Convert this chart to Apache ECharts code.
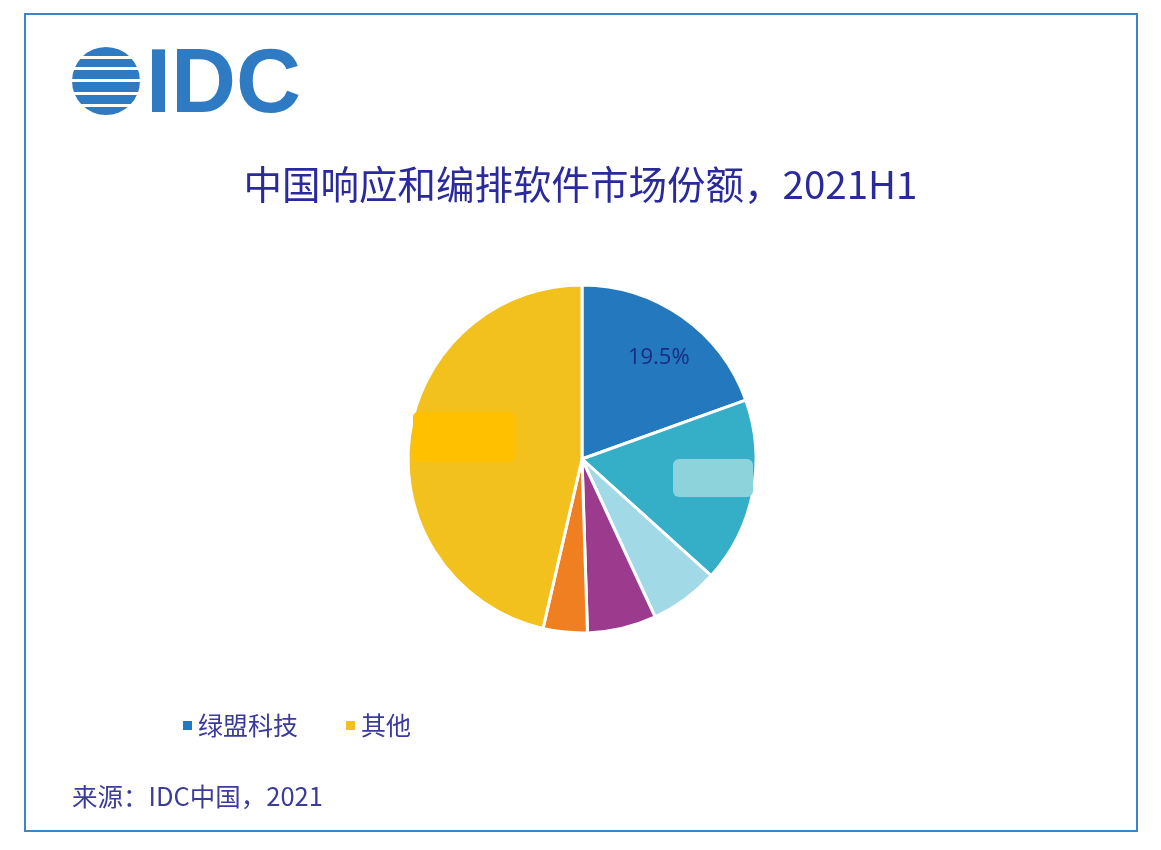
<!DOCTYPE html>
<html><head><meta charset="utf-8">
<script src="https://cdn.jsdelivr.net/npm/echarts@6/dist/echarts.min.js"></script>
<style>html,body{margin:0;padding:0;background:#fff}#c{width:1161px;height:850px}</style>
</head><body><div id="c"></div>
<script>
var titleText = '中国响应和编排软件市场份额，2021H1';
var sourceText = '来源：IDC中国，2021';
var vendors = ['绿盟科技', '厂商B', '厂商C', '厂商D', '厂商E', '其他'];
var shares = [19.5, 17.2, 6.4, 6.4, 4.1, 46.4];
var colors = ['#2378be', '#35aec8', '#a2d9e7', '#9c3b8e', '#f07f22', '#f2c11e'];
var legendNames = ['绿盟科技', '其他'];

var chart = echarts.init(document.getElementById('c'));
var font = '"Noto Sans CJK SC", "Microsoft YaHei", sans-serif';

var data = vendors.map(function (n, i) {
  var d = { name: n, value: shares[i], itemStyle: { color: colors[i] } };
  if (i === 0) {
    d.label = { show: true, position: 'inside', formatter: shares[i].toFixed(1) + '%',
      offset: [25, -28], color: '#1b2a82', fontSize: 22, fontFamily: 'Open Sans, sans-serif' };
  }
  return d;
});

// IDC globe stripes
var gapYs = [56, 67, 79, 92, 104];
var globe = [{ type: 'circle', shape: { cx: 106, cy: 81, r: 34 }, style: { fill: '#2f7bc3' } }];
gapYs.forEach(function (y) {
  globe.push({ type: 'rect', shape: { x: 66, y: y, width: 80, height: 3 }, style: { fill: '#fff' } });
});

chart.setOption({
  backgroundColor: '#fff',
  title: {
    text: titleText, left: 'center', top: 160,
    textStyle: { color: '#2a2a9c', fontSize: 38.5, fontWeight: 'normal', fontFamily: font }
  },
  legend: {
    data: legendNames, left: 176, top: 708, icon: 'rect', itemWidth: 11, itemHeight: 11,
    itemGap: 46, textStyle: { color: '#3a3a9c', fontSize: 25, fontFamily: font }
  },
  graphic: [
    { type: 'rect', shape: { x: 25, y: 14, width: 1112, height: 817 },
      style: { fill: 'none', stroke: '#3d85c6', lineWidth: 2 } },
    { type: 'group', children: globe },
    { type: 'text', left: 146, top: 42, style: { text: 'IDC', fill: '#2f7bc3',
      font: 'bold 90px "Liberation Sans", Arial, sans-serif' } },
    { type: 'text', left: 72, top: 784, style: { text: sourceText, fill: '#3b3b9a',
      font: '25.5px ' + font } },
    { type: 'rect', z: 10, shape: { x: 413, y: 412, width: 102, height: 50, r: 5 }, style: { fill: '#ffc000' } },
    { type: 'rect', z: 10, shape: { x: 673, y: 459, width: 80, height: 38, r: 6 }, style: { fill: '#8dd3dc' } }
  ],
  series: [{
    type: 'pie', center: [582, 459], radius: 174, startAngle: 90, clockwise: true,
    label: { show: false }, labelLine: { show: false },
    itemStyle: { borderColor: '#fff', borderWidth: 3 },
    emphasis: { disabled: true },
    data: data
  }]
});
</script></body></html>
